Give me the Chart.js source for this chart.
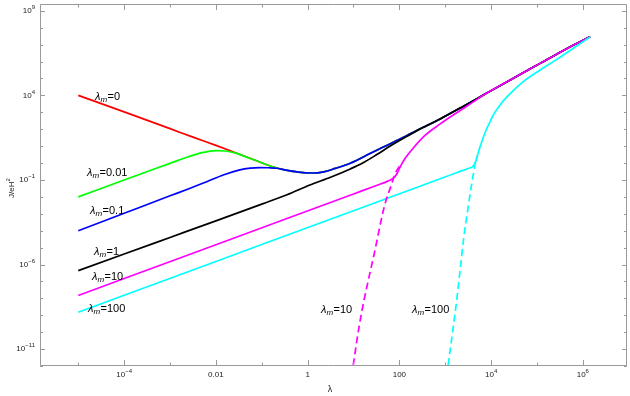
<!DOCTYPE html>
<html>
<head>
<meta charset="utf-8">
<script src="https://cdn.jsdelivr.net/npm/chart.js@4.4.0/dist/chart.umd.min.js"></script>
<style>
  body { margin: 0; background: #fff; }
  #c { display: block; }
</style>
</head>
<body>
<canvas id="c" width="630" height="396"></canvas>
<script>
// points are [log10(lambda), log10(J/eH^2)]
const lamCommon = [[-5, 4.0], [-4, 3.02], [-3, 2.03], [-2.5, 1.53], [-2, 1.04], [-1.7, 0.74], [-1.4, 0.43],
  [-1.1, 0.12], [-0.8, -0.19], [-0.5, -0.41], [-0.2, -0.54], [0.1, -0.59], [0.35, -0.52], [0.6, -0.32],
  [0.93, -0.01], [1.36, 0.56], [1.65, 0.95], [2.09, 1.52], [2.5, 2.08], [2.9, 2.62], [3.4, 3.36],
  [3.84, 4.03], [4.35, 4.81], [5.07, 5.89], [5.8, 6.98], [6.16, 7.46]];
const greenLow = [[-5, -2], [-4, -1.0], [-3, -0.02], [-2.6, 0.37], [-2.3, 0.61], [-2.0, 0.73], [-1.8, 0.71],
  [-1.6, 0.61], [-1.4, 0.42]];
const blueLow = [[-5, -4], [-4, -2.97], [-3, -1.94], [-2.56, -1.49], [-2.2, -1.11], [-1.84, -0.71], [-1.5, -0.42],
  [-1.25, -0.3], [-1.04, -0.27], [-0.85, -0.28], [-0.67, -0.31]];
const blackLow = [[-5, -6.36], [-4, -5.38], [-3, -4.4], [-2, -3.42], [-1, -2.43], [-0.45, -1.88], [0.05, -1.3],
  [0.5, -0.84], [0.93, -0.35], [1.2, 0.0], [1.51, 0.5], [1.8, 1.0], [2.09, 1.46], [2.3, 1.77]];
const magentaLow = [[-5, -7.83], [-2, -4.83], [1, -1.83], [1.5, -1.33], [1.75, -1.07], [1.87, -0.9], [1.95, -0.62],
  [2.02, -0.21], [2.12, 0.25], [2.24, 0.68], [2.53, 1.56], [2.89, 2.31], [3.2, 2.88], [3.62, 3.63], [3.84, 4.03]];
const magentaDash = [[0.96, -12.6], [1.0, -11.85], [1.12, -9.7], [1.23, -8.1], [1.35, -6.6], [1.47, -5.13],
  [1.62, -3.17], [1.71, -2.2], [1.8, -1.5], [1.87, -0.92], [1.95, -0.41], [2.05, -0.05]];
const cyanSolid = [[-5, -8.82], [-2, -5.82], [1, -2.82], [3.26, -0.56], [3.5, -0.32], [3.6, -0.21], [3.65, -0.02],
  [3.7, 0.42], [3.75, 0.88], [3.8, 1.28], [3.88, 1.88], [3.98, 2.45], [4.05, 2.85], [4.2, 3.45], [4.35, 3.92],
  [4.7, 4.81], [5.07, 5.5], [5.44, 6.14], [5.8, 6.8], [6.16, 7.45]];
const cyanDash = [[3.04, -12.6], [3.07, -11.85], [3.16, -10.0], [3.255, -8.0], [3.33, -6.2], [3.4, -4.5],
  [3.5, -2.6], [3.58, -1.2], [3.62, -0.55], [3.66, 0.08], [3.7, 0.42]];

const xMajor = [-4, -2, 0, 2, 4, 6];
const xMajorLabels = ['10|\u22124', '0.01', '1', '100', '10|4', '10|6'];
const xMinor = [-5, -3, -1, 1, 3, 5];
const yMajor = [9, 4, -1, -6, -11];
const yMajorLabels = ['10|9', '10|4', '10|\u22121', '10|\u22126', '10|\u221211'];
const yMinor = [8, 7, 6, 5, 3, 2, 1, 0, -2, -3, -4, -5, -7, -8, -9, -10, -12];

const curveLabels = [
  { v: '0', x: 95, y: 97 },
  { v: '0.01', x: 87, y: 173 },
  { v: '0.1', x: 90, y: 211 },
  { v: '1', x: 94, y: 252 },
  { v: '10', x: 92, y: 277 },
  { v: '100', x: 88, y: 309 },
  { v: '10', x: 321, y: 310 },
  { v: '100', x: 412, y: 310 }
];

const FONT = '"Liberation Sans", Arial, sans-serif';
const pts = a => a.map(p => ({ x: Math.pow(10, p[0]), y: Math.pow(10, p[1]) }));
const from = lo => lamCommon.filter(p => p[0] >= lo);

function line(data, color, order, dash) {
  return {
    data: pts(data), borderColor: color, borderWidth: 1.7, pointRadius: 0, fill: false,
    cubicInterpolationMode: 'monotone', order: order, borderDash: dash || []
  };
}

function drawPow(ctx, label, x, y, align) {
  const parts = label.split('|');
  ctx.font = '8px ' + FONT;
  const wb = ctx.measureText(parts[0]).width;
  let we = 0;
  if (parts[1]) { ctx.font = '6px ' + FONT; we = ctx.measureText(parts[1]).width; }
  const w = wb + we;
  let sx = align === 'right' ? x - w : x - w / 2;
  ctx.textAlign = 'left';
  ctx.textBaseline = 'middle';
  ctx.font = '8px ' + FONT;
  ctx.fillText(parts[0], sx, y);
  if (parts[1]) {
    ctx.font = '6px ' + FONT;
    ctx.fillText(parts[1], sx + wb, y - 3.5);
  }
}

function drawLam(ctx, v, x, y) {
  ctx.textAlign = 'left';
  ctx.textBaseline = 'middle';
  ctx.fillStyle = '#000';
  ctx.font = 'italic 11px ' + FONT;
  ctx.fillText('\u03bb', x, y);
  let cx = x + ctx.measureText('\u03bb').width;
  ctx.font = 'italic 8px ' + FONT;
  ctx.fillText('m', cx, y + 3);
  cx += ctx.measureText('m').width + 0.5;
  ctx.font = '11px ' + FONT;
  ctx.fillText('=' + v, cx, y);
}

const framePlugin = {
  id: 'frame',
  afterDatasetsDraw(chart) {
    const { ctx, chartArea: a, scales: { x, y } } = chart;
    ctx.save();
    ctx.strokeStyle = '#9a9a9a';
    ctx.lineWidth = 1;
    ctx.beginPath();
    ctx.rect(Math.round(a.left) + 0.5, Math.round(a.top) + 0.5,
      Math.round(a.right - a.left) - 1, Math.round(a.bottom - a.top) - 1);
    const xt = (v, len) => {
      const px = Math.round(x.getPixelForValue(Math.pow(10, v))) + 0.5;
      ctx.moveTo(px, a.bottom); ctx.lineTo(px, a.bottom - len);
      ctx.moveTo(px, a.top); ctx.lineTo(px, a.top + len);
    };
    const yt = (v, len) => {
      const py = Math.round(y.getPixelForValue(Math.pow(10, v))) + 0.5;
      ctx.moveTo(a.left, py); ctx.lineTo(a.left + len, py);
      ctx.moveTo(a.right, py); ctx.lineTo(a.right - len, py);
    };
    xMajor.forEach(v => xt(v, 6));
    xMinor.forEach(v => xt(v, 3.5));
    yMajor.forEach(v => yt(v, 5));
    yMinor.forEach(v => yt(v, 3));
    ctx.stroke();

    ctx.fillStyle = '#222';
    xMajor.forEach((v, i) => drawPow(ctx, xMajorLabels[i], x.getPixelForValue(Math.pow(10, v)), a.bottom + 9, 'center'));
    yMajor.forEach((v, i) => drawPow(ctx, yMajorLabels[i], a.left - 5, y.getPixelForValue(Math.pow(10, v)), 'right'));

    // axis titles
    ctx.font = '9px ' + FONT;
    ctx.textAlign = 'center';
    ctx.textBaseline = 'middle';
    ctx.fillText('\u03bb', 330, 390);
    ctx.save();
    ctx.translate(12, 188);
    ctx.rotate(-Math.PI / 2);
    ctx.font = '8px ' + FONT;
    const w1 = ctx.measureText('J/eH').width;
    ctx.font = '6px ' + FONT;
    const w2 = ctx.measureText('2').width;
    ctx.textAlign = 'left';
    ctx.font = '8px ' + FONT;
    ctx.fillText('J/eH', -(w1 + w2) / 2, 0);
    ctx.font = '6px ' + FONT;
    ctx.fillText('2', -(w1 + w2) / 2 + w1, -3.5);
    ctx.restore();

    curveLabels.forEach(l => drawLam(ctx, l.v, l.x, l.y));
    ctx.restore();
  }
};

new Chart(document.getElementById('c'), {
  type: 'line',
  data: {
    datasets: [
      line(lamCommon, '#ff0000', 9),
      line(greenLow.concat(from(-1.1)), '#00ff00', 8),
      line(blueLow.concat(from(-0.5)), '#0000ff', 7),
      line(blackLow.concat(from(2.5)), '#000000', 6),
      line(magentaLow.concat(from(4.35)), '#ff00ff', 5),
      line(cyanSolid, '#00ffff', 4),
      line(magentaDash, '#ff00ff', 3, [7, 4]),
      line(cyanDash, '#00ffff', 2, [7, 4])
    ]
  },
  options: {
    responsive: false,
    animation: false,
    devicePixelRatio: 1,
    layout: { padding: { top: 4, right: 3, left: 0, bottom: 0 } },
    plugins: { legend: { display: false }, tooltip: { enabled: false } },
    scales: {
      x: {
        type: 'logarithmic', min: Math.pow(10, -5.835), max: Math.pow(10, 6.963),
        grid: { display: false }, border: { display: false }, ticks: { display: false },
        afterFit(s) { s.height = 30; }
      },
      y: {
        type: 'logarithmic', min: 1e-12, max: Math.pow(10, 9.4),
        grid: { display: false }, border: { display: false }, ticks: { display: false },
        afterFit(s) { s.width = 40; }
      }
    }
  },
  plugins: [framePlugin]
});
</script>
</body>
</html>
